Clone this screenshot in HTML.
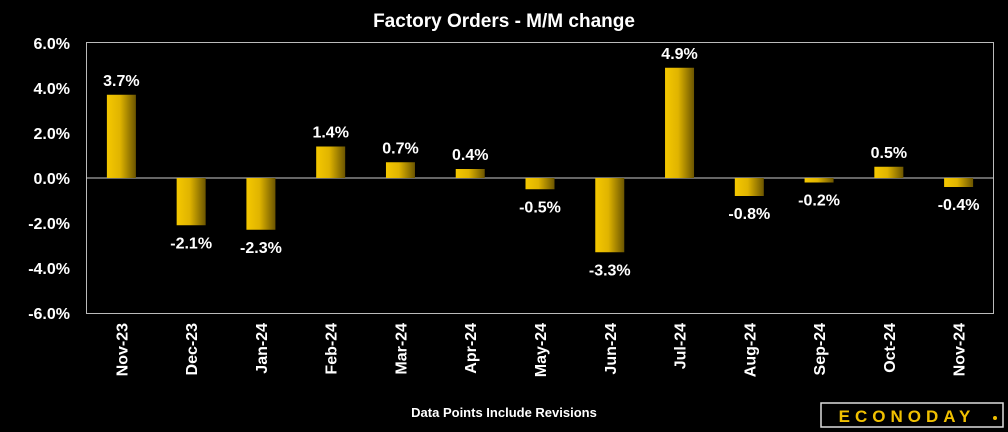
<!DOCTYPE html>
<html><head><meta charset="utf-8"><style>
html,body{margin:0;padding:0;background:#000;}
svg{display:block;font-family:"Liberation Sans",sans-serif;}
</style></head><body>
<svg id="chart" width="1008" height="432">
<defs><linearGradient id="bg" x1="0" x2="1" y1="0" y2="0"><stop offset="0" stop-color="#f5c800"/><stop offset="0.45" stop-color="#e0b400"/><stop offset="1" stop-color="#6b5500"/></linearGradient></defs>
<rect width="1008" height="432" fill="#000"/>
<text x="504" y="27" text-anchor="middle" fill="#fff" font-size="19" font-weight="bold">Factory Orders - M/M change</text>
<rect x="86.5" y="42.5" width="907" height="271" fill="none" stroke="#bbb" stroke-width="1"/>
<g id="yaxis"></g><g id="bars"></g><g id="xaxis"></g>
<text x="504" y="417" text-anchor="middle" fill="#fff" font-size="13" font-weight="bold">Data Points Include Revisions</text>
<g>
<rect x="821" y="403" width="182" height="24" fill="#000" stroke="#ddd" stroke-width="1.5"/>
<text x="907" y="422" text-anchor="middle" fill="#f0c000" font-size="17" font-weight="bold" letter-spacing="5">ECONODAY</text>
<circle cx="995" cy="418" r="2" fill="#f0c000"/>
</g>
</svg>
<script>
const categories=["Nov-23","Dec-23","Jan-24","Feb-24","Mar-24","Apr-24","May-24","Jun-24","Jul-24","Aug-24","Sep-24","Oct-24","Nov-24"];
const values=[3.7,-2.1,-2.3,1.4,0.7,0.4,-0.5,-3.3,4.9,-0.8,-0.2,0.5,-0.4];
const yTicks=[6,4,2,0,-2,-4,-6];
const NS="http://www.w3.org/2000/svg";
const L=86.5,R=993.5,T=43,B=313,yMin=-6,yMax=6;
const y=v=>T+(yMax-v)/(yMax-yMin)*(B-T);
const bw=(R-L)/categories.length;
const xc=i=>L+bw*(i+0.5);
function mk(t,a,p){const e=document.createElementNS(NS,t);for(const k in a)e.setAttribute(k,a[k]);p.appendChild(e);return e;}
const ya=document.getElementById('yaxis'),bg=document.getElementById('bars'),xa=document.getElementById('xaxis');
yTicks.forEach(v=>{const t=mk('text',{x:70,y:y(v)+6,'text-anchor':'end',fill:'#fff','font-size':16,'font-weight':'bold'},ya);t.textContent=v.toFixed(1)+'%';

});
const z=mk('line',{x1:L,x2:R,y1:y(0),y2:y(0),stroke:'#ccc','stroke-width':1},ya);


values.forEach((v,i)=>{const top=Math.min(y(v),y(0)),h=Math.abs(y(v)-y(0));
const r=mk('rect',{x:xc(i)-14.5,y:top,width:29,height:h,fill:'url(#bg)'},bg);


const ly=v>=0?y(v)-9:y(v)+23;
const t=mk('text',{x:xc(i),y:ly,'text-anchor':'middle',fill:'#fff','font-size':16,'font-weight':'bold'},bg);t.textContent=v.toFixed(1)+'%';


const c=mk('text',{x:0,y:0,'text-anchor':'end',fill:'#fff','font-size':16,'font-weight':'bold',transform:`translate(${xc(i)+6},323) rotate(-90)`},xa);c.textContent=categories[i];

});
</script>
</body></html>
